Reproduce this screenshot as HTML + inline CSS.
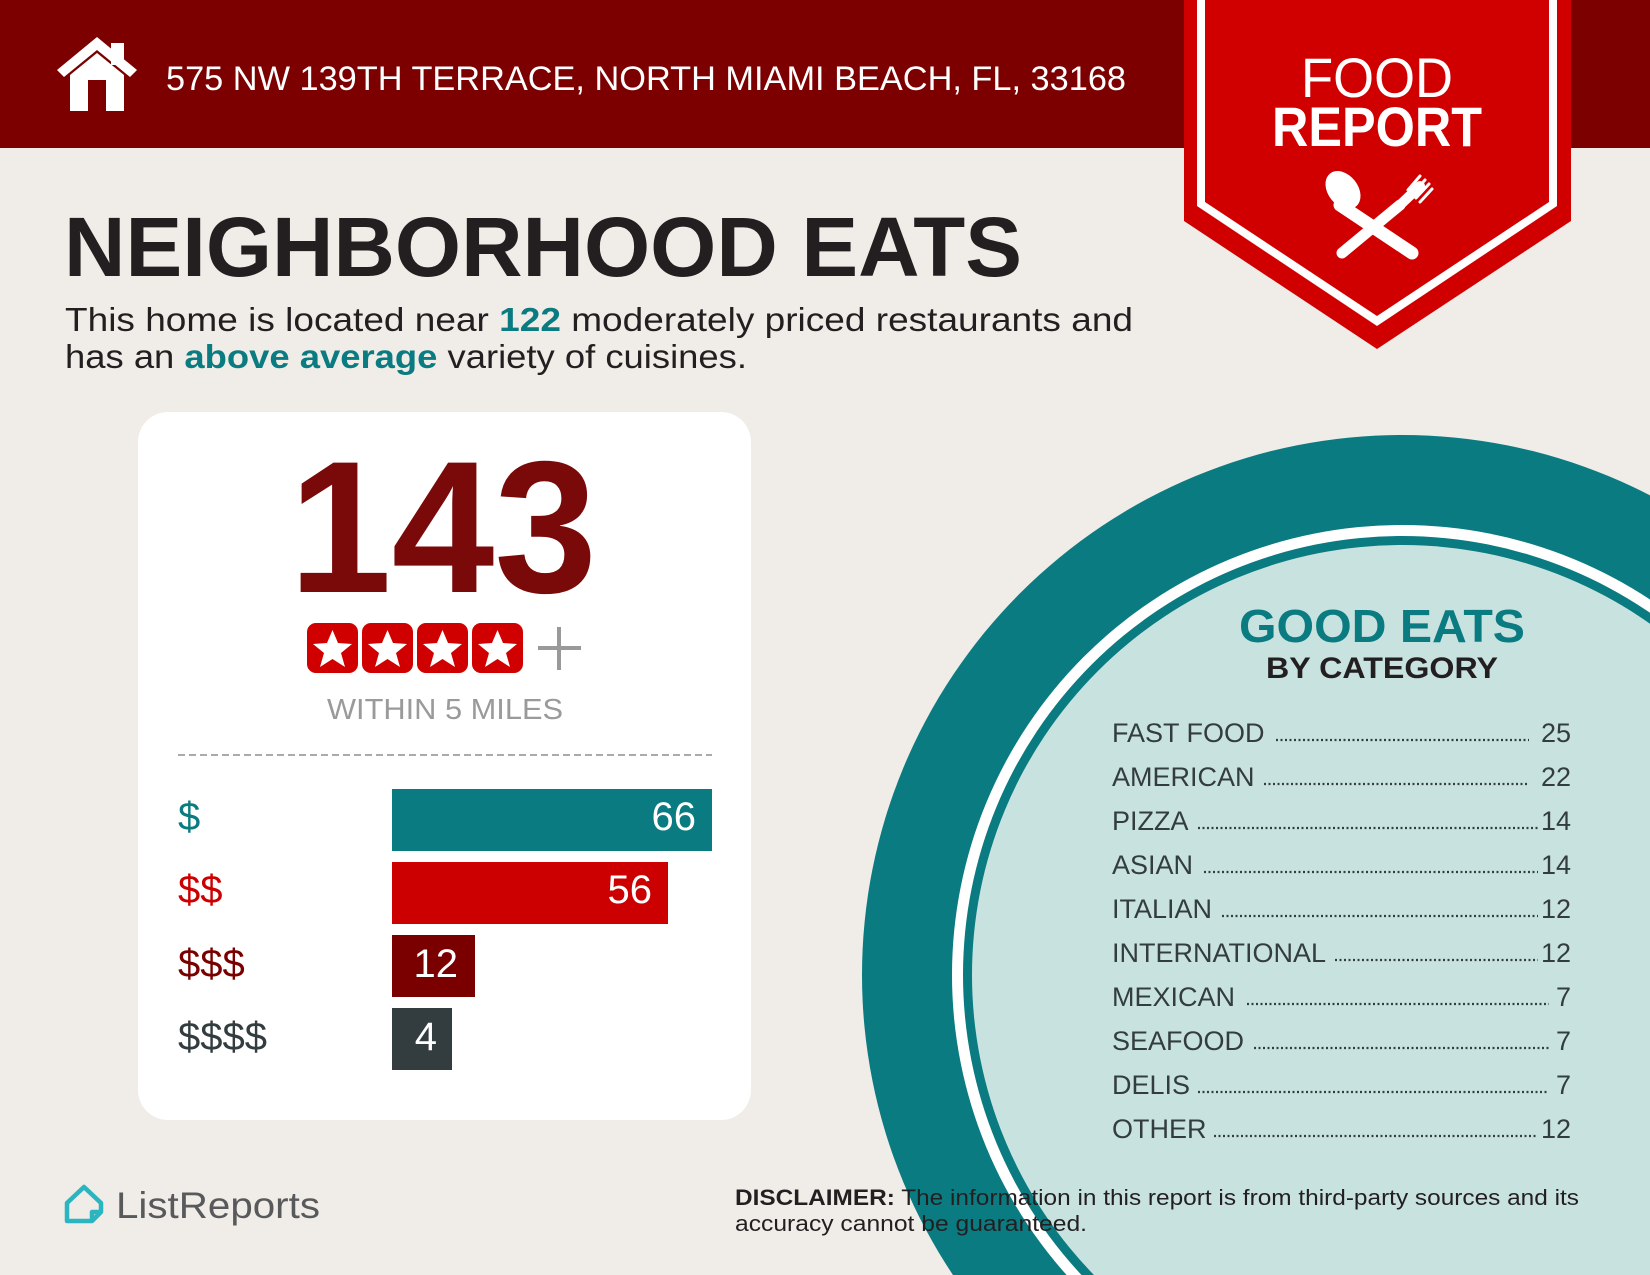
<!DOCTYPE html>
<html><head><meta charset="utf-8"><style>
html,body{margin:0;padding:0;background:#f0ece8;width:1650px;height:1275px;overflow:hidden}
svg{display:block}
text{font-family:"Liberation Sans",sans-serif}
</style></head><body>
<svg width="1650" height="1275" viewBox="0 0 1650 1275" xmlns="http://www.w3.org/2000/svg">
<rect width="1650" height="1275" fill="#f0ece8"/>
<rect x="0" y="0" width="1650" height="148" fill="#7c0000"/>
<g fill="#fff">
<polygon points="57,70 97,37 137,70 130,77 97,50 64,77"/>
<rect x="111" y="43" width="13" height="22"/>
<polygon points="70,75 97,53 124,75 124,111 106,111 106,80 88,80 88,111 70,111"/>
</g>
<text x="166" y="90" font-size="34" fill="#fff" textLength="960" lengthAdjust="spacingAndGlyphs">575 NW 139TH TERRACE, NORTH MIAMI BEACH, FL, 33168</text>
<polygon points="1184,0 1571,0 1571,221 1377,349 1184,221" fill="#d10000"/>
<polygon points="1197,0 1557,0 1557,206 1377,326 1197,206" fill="#fff"/>
<polygon points="1205,0 1549,0 1549,202 1377,316 1205,202" fill="#d10000"/>
<text x="1377" y="97" font-size="56" fill="#fff" text-anchor="middle" textLength="152" lengthAdjust="spacingAndGlyphs">FOOD</text>
<text x="1377" y="146" font-size="56" font-weight="bold" fill="#fff" text-anchor="middle" textLength="210" lengthAdjust="spacingAndGlyphs">REPORT</text>
<g fill="#fff" stroke="#fff" stroke-linecap="round">
<line x1="1340" y1="205" x2="1412" y2="253" stroke-width="13"/>
<ellipse cx="1343" cy="190" rx="15" ry="21" transform="rotate(-38 1343 190)" stroke="none"/>
<line x1="1342" y1="253" x2="1400" y2="205" stroke-width="11"/>
<line x1="1400" y1="205" x2="1420" y2="186" stroke-width="10"/>
<line x1="1408" y1="190" x2="1420" y2="176" stroke-width="3"/>
<line x1="1412" y1="194" x2="1425" y2="180" stroke-width="3"/>
<line x1="1416" y1="198" x2="1429" y2="184" stroke-width="3"/>
<line x1="1420" y1="202" x2="1432" y2="189" stroke-width="3"/>
</g>
<text x="64" y="276" font-size="84" font-weight="bold" fill="#231f20" textLength="958" lengthAdjust="spacingAndGlyphs">NEIGHBORHOOD EATS</text>
<text x="65" y="331" font-size="33" fill="#231f20" textLength="1068" lengthAdjust="spacingAndGlyphs">This home is located near <tspan fill="#0a7b80" font-weight="bold">122</tspan> moderately priced restaurants and</text>
<text x="65" y="368" font-size="33" fill="#231f20" textLength="682" lengthAdjust="spacingAndGlyphs">has an <tspan fill="#0a7b80" font-weight="bold">above average</tspan> variety of cuisines.</text>
<rect x="138" y="412" width="613" height="708" rx="30" fill="#fff"/>
<text x="443" y="592" font-size="188" font-weight="bold" fill="#7a0a0a" text-anchor="middle" textLength="308" lengthAdjust="spacingAndGlyphs">143</text>
<g>
<rect x="307" y="623" width="51" height="50" rx="9" fill="#d10000"/>
<rect x="362" y="623" width="51" height="50" rx="9" fill="#d10000"/>
<rect x="417" y="623" width="51" height="50" rx="9" fill="#d10000"/>
<rect x="472" y="623" width="51" height="50" rx="9" fill="#d10000"/>
<g fill="#fff">
<polygon id="st" points="332.5,630 338,643 352,644 341,653 345,667 332.5,659 320,667 324,653 313,644 327,643"/>
<use href="#st" x="55"/><use href="#st" x="110"/><use href="#st" x="165"/>
</g>
<rect x="538" y="646" width="43" height="4" fill="#999"/>
<rect x="557" y="627" width="4" height="43" fill="#999"/>
</g>
<text x="445" y="719" font-size="29" fill="#9a9a9a" text-anchor="middle" textLength="236" lengthAdjust="spacingAndGlyphs">WITHIN 5 MILES</text>
<line x1="178" y1="755" x2="712" y2="755" stroke="#aaa" stroke-width="2" stroke-dasharray="7,4"/>
<rect x="392" y="789" width="320" height="62" fill="#0a7b80"/>
<rect x="392" y="862" width="276" height="62" fill="#cc0000"/>
<rect x="392" y="935" width="83" height="62" fill="#7a0000"/>
<rect x="392" y="1008" width="60" height="62" fill="#333d40"/>
<text x="178" y="830" font-size="40" fill="#0a7b80">$</text>
<text x="178" y="903" font-size="40" fill="#cc0000">$$</text>
<text x="178" y="977" font-size="40" fill="#7a0000">$$$</text>
<text x="178" y="1050" font-size="40" fill="#333d40">$$$$</text>
<text x="696" y="830" font-size="40" fill="#fff" text-anchor="end">66</text>
<text x="652" y="903" font-size="40" fill="#fff" text-anchor="end">56</text>
<text x="458" y="977" font-size="40" fill="#fff" text-anchor="end">12</text>
<text x="437" y="1050" font-size="40" fill="#fff" text-anchor="end">4</text>
<circle cx="1402" cy="975" r="540" fill="#0a7b80"/>
<circle cx="1402" cy="975" r="450" fill="#fff"/>
<circle cx="1402" cy="975" r="439" fill="#0a7b80"/>
<circle cx="1402" cy="975" r="430" fill="#c8e2e0"/>
<text x="1382" y="642" font-size="46" font-weight="bold" fill="#0a7b80" text-anchor="middle" textLength="286" lengthAdjust="spacingAndGlyphs">GOOD EATS</text>
<text x="1382" y="678" font-size="30" font-weight="bold" fill="#231f20" text-anchor="middle" textLength="232" lengthAdjust="spacingAndGlyphs">BY CATEGORY</text>
<g font-size="27" fill="#333d40">
<text x="1112" y="742">FAST FOOD</text><text x="1571" y="742" text-anchor="end">25</text>
<text x="1112" y="786">AMERICAN</text><text x="1571" y="786" text-anchor="end">22</text>
<text x="1112" y="830">PIZZA</text><text x="1571" y="830" text-anchor="end">14</text>
<text x="1112" y="874">ASIAN</text><text x="1571" y="874" text-anchor="end">14</text>
<text x="1112" y="918">ITALIAN</text><text x="1571" y="918" text-anchor="end">12</text>
<text x="1112" y="962">INTERNATIONAL</text><text x="1571" y="962" text-anchor="end">12</text>
<text x="1112" y="1006">MEXICAN</text><text x="1571" y="1006" text-anchor="end">7</text>
<text x="1112" y="1050">SEAFOOD</text><text x="1571" y="1050" text-anchor="end">7</text>
<text x="1112" y="1094">DELIS</text><text x="1571" y="1094" text-anchor="end">7</text>
<text x="1112" y="1138">OTHER</text><text x="1571" y="1138" text-anchor="end">12</text>
</g>
<g stroke="#333d40" stroke-width="2.2" stroke-dasharray="2,2.5">
<line x1="1276" y1="740" x2="1529" y2="740"/>
<line x1="1264" y1="784" x2="1529" y2="784"/>
<line x1="1198" y1="828" x2="1538" y2="828"/>
<line x1="1204" y1="872" x2="1538" y2="872"/>
<line x1="1222" y1="916" x2="1538" y2="916"/>
<line x1="1335" y1="960" x2="1538" y2="960"/>
<line x1="1247" y1="1004" x2="1549" y2="1004"/>
<line x1="1254" y1="1048" x2="1549" y2="1048"/>
<line x1="1198" y1="1092" x2="1549" y2="1092"/>
<line x1="1214" y1="1136" x2="1538" y2="1136"/>
</g>
<g fill="none" stroke="#2bb5c0" stroke-width="4.5" stroke-linejoin="round">
<path d="M67,1203 L84,1187 L101,1203 L101,1212 L92,1221 L67,1221 Z"/>
<path d="M92,1221 L92,1212 L101,1212"/>
</g>
<text x="116" y="1218" font-size="37" fill="#58595b" textLength="204" lengthAdjust="spacingAndGlyphs">ListReports</text>
<text x="735" y="1205" font-size="22" fill="#231f20" textLength="844" lengthAdjust="spacingAndGlyphs"><tspan font-weight="bold">DISCLAIMER:</tspan> The information in this report is from third-party sources and its</text>
<text x="735" y="1231" font-size="22" fill="#231f20" textLength="352" lengthAdjust="spacingAndGlyphs">accuracy cannot be guaranteed.</text>
</svg>
</body></html>
